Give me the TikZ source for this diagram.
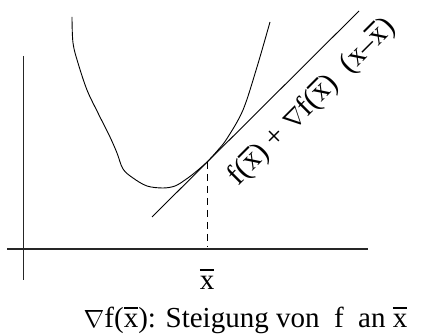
\documentclass[tikz,border=0pt]{standalone}
\usepackage{fontspec}
\setmainfont{Liberation Serif}
\usetikzlibrary{positioning}

% x with a bar above it
\newcommand{\xb}{\leavevmode\rlap{\raisebox{0.66em}{\rule{0.5em}{0.065em}}}x}

\begin{document}
\begin{tikzpicture}[x=1pt,y=1pt,
 axis/.style={draw=black!85,line width=1.1pt},
 curve/.style={draw=black,line width=0.9pt},
 lab/.style={font=\fontsize{29}{31}\selectfont,inner sep=0pt},
 biglab/.style={font=\fontsize{30}{32}\selectfont,inner sep=0pt}]
\useasboundingbox (0,0) rectangle (421,336);
% axes
\draw[axis] (23.5,280)--(23.5,56);
\draw[axis] (7,87)--(368,87);
% function
\draw[curve] plot[smooth,tension=0.55] coordinates {(72,319) (73,293) (78,273)
 (87,246) (98,223) (110,199) (117,183) (123,167) (133,158) (147,150)
 (163,148) (175,150) (185,156) (195,163.5) (207,174) (218,186) (227,197.5)
 (243,226) (257,269) (270,314)};
% tangent at xbar
\coordinate (T) at (207,174);
\coordinate (A) at (152,119);
\coordinate (B) at (359,325);
\draw[curve] (A)--(B);
\coordinate (X) at (207,89);
\draw[line width=0.8pt,dash pattern=on 7pt off 5pt] (T)--(X);
\node[lab,anchor=base] (xbar) at (207,46) {\xb};
\node[biglab,rotate=45] (tang) at (312,234)
 {f(\xb) + $\nabla$f(\xb)\ \ (x--\xb)};
\node[lab,anchor=base] (cap) at (245.5,8) {$\nabla$f(\xb): Steigung von\ \ f\ \ an \xb};
\end{tikzpicture}
\end{document}
